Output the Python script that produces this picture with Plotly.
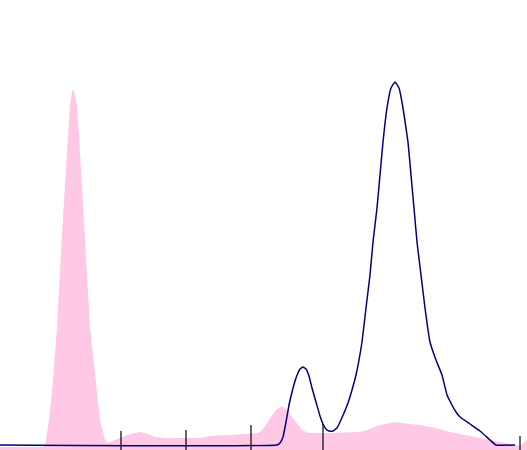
import plotly.graph_objects as go

H = 450
# pink profile (x, top pixel row)
pink_x = [0, 44, 45, 46, 49, 52, 57, 60, 62, 65, 68, 70, 72, 73, 74, 75, 77, 79, 82, 85, 87, 90, 97, 100, 105,
          107, 110, 120, 130, 140, 148, 155, 165, 200, 210, 230, 250, 258, 262, 266, 270, 276, 282, 287, 292,
          297, 302, 308, 330, 360, 370, 380, 395, 410, 420, 435, 450, 465, 480, 500, 515, 520, 524, 527]
pink_top = [447, 447, 445, 440, 420, 393, 327, 265, 235, 185, 135, 105, 92, 90, 91, 95, 105, 135, 185, 235, 265,
            327, 393, 420, 440, 443, 442, 438, 434, 432, 434, 437, 438, 438, 436, 435, 434, 433, 430, 425, 418,
            410, 406, 410, 417, 424, 430, 433, 433, 432, 429, 425, 422, 424, 425, 428, 432, 435, 438, 442, 445,
            446, 442, 440]
pink_y = [H - v for v in pink_top]

blue_x = [0, 277, 280, 283, 286, 289, 292, 296, 300, 303, 306, 309, 312, 316, 320, 323, 326, 329, 333, 337,
          340, 344, 348, 352, 356, 362, 366, 370, 373, 377, 380, 383, 387, 391, 395, 399, 403, 408, 411, 414,
          417, 421, 425, 430, 436, 442, 447, 452, 456, 460, 470, 480, 490, 496, 515]
blue_top = [445, 445, 443, 437, 422, 405, 392, 378, 369, 367, 369, 376, 388, 402, 416, 424, 429, 431, 431, 428,
            422, 413, 403, 390, 375, 342, 308, 275, 242, 208, 175, 142, 108, 88, 82, 88, 108, 142, 175, 208,
            242, 275, 308, 342, 360, 375, 395, 405, 412, 417, 424, 431, 440, 445, 445]
blue_y = [H - v for v in blue_top]

tick_x = [121, 186, 251, 323, 520]
tick_top = [431, 430, 425, 424, 436]

fig = go.Figure()
fig.add_trace(go.Scatter(x=pink_x, y=pink_y, mode="lines", fill="tozeroy",
                         line=dict(color="rgb(255,200,228)", width=0),
                         fillcolor="rgb(255,200,228)", hoverinfo="skip"))
fig.add_trace(go.Scatter(x=blue_x, y=blue_y, mode="lines",
                         line=dict(color="#000080", width=1.5, shape="spline", smoothing=0.3)))
tx, ty = [], []
for x, t in zip(tick_x, tick_top):
    tx += [x, x, None]
    ty += [0, H - t, None]
fig.add_trace(go.Scatter(x=tx, y=ty, mode="lines", line=dict(color="black", width=1.2)))

fig.update_layout(width=527, height=450, margin=dict(l=0, r=0, t=0, b=0),
                  paper_bgcolor="white", plot_bgcolor="white", showlegend=False,
                  xaxis=dict(range=[0, 527], visible=False, fixedrange=True),
                  yaxis=dict(range=[0, 450], visible=False, fixedrange=True))
fig.write_html("out.html", config={"displayModeBar": False},
               post_script="document.body.style.margin='0';document.body.style.overflow='hidden';")
